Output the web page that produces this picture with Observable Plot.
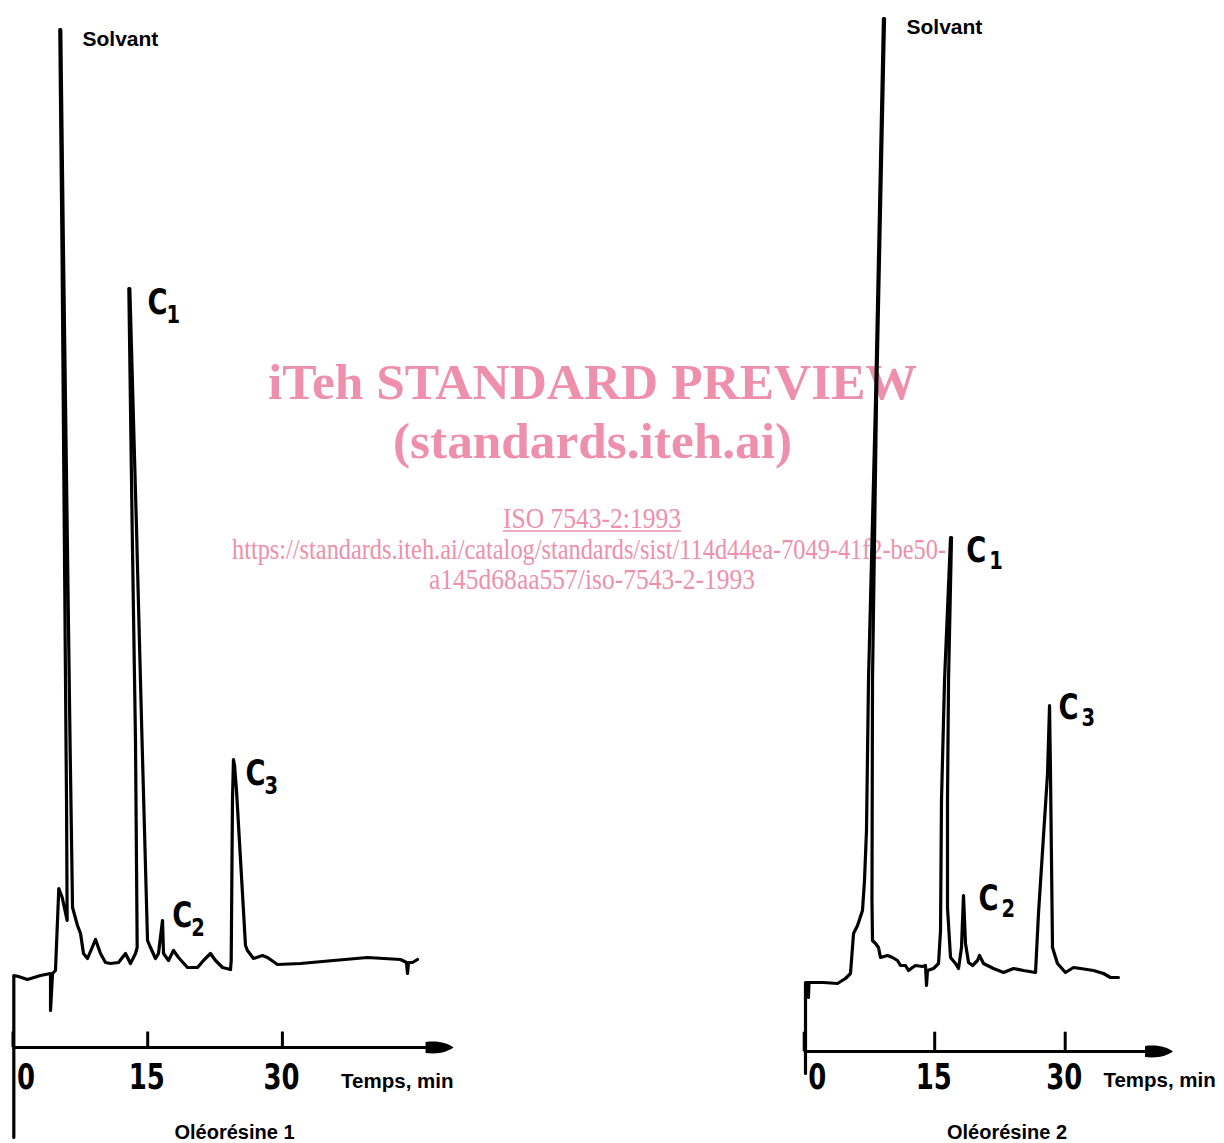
<!DOCTYPE html>
<html>
<head>
<meta charset="utf-8">
<script src="https://cdn.jsdelivr.net/npm/d3@7"></script>
<script src="https://cdn.jsdelivr.net/npm/@observablehq/plot@0.6"></script>
<style>
  html, body { margin: 0; padding: 0; background: #fff; }
  #page { position: relative; width: 1224px; height: 1143px; overflow: hidden; background: #fff; }
  #page > svg { position: absolute; top: 0; margin: 0; }
</style>
</head>
<body>
<div id="page"></div>
<script>
// ---------- Data ----------
// Oléorésine 1 : recorder trace (time in min, detector signal in arbitrary units)
const time1 = [0.09,0.09,0.61,1.61,3.06,4.18,4.18,4.40,4.73,5.10,5.48,6.03,5.96,5.90,5.46,5.21,5.32,5.62,6.35,6.63,7.18,7.52,7.85,8.30,9.19,9.74,10.30,10.86,11.75,12.53,13.08,13.64,13.83,13.64,13.27,12.90,13.01,13.75,14.37,14.98,15.31,15.87,16.20,16.65,16.76,17.32,17.87,18.43,19.43,20.55,21.21,21.99,22.55,23.33,24.22,24.30,24.44,24.55,24.67,24.89,25.89,26.11,26.78,27.78,28.34,29.45,32.02,35.69,39.48,43.15,43.82,43.93,44.04,44.49,45.04];
const signal1 = [-9.0,7.2,7.1,6.8,7.2,7.4,3.7,7.4,7.7,15.9,15.0,12.7,24.7,30.7,79.7,101.8,101.8,79.7,30.7,14.0,12.2,11.4,9.4,8.9,10.8,9.4,8.5,8.4,8.5,9.4,8.4,9.4,10.0,30.7,52.0,75.9,75.9,52.0,30.7,10.7,10.0,8.9,9.4,12.7,9.4,8.7,9.7,9.0,8.0,8.0,8.7,9.4,8.7,8.0,7.8,8.7,24.7,28.8,28.2,25.7,10.2,9.7,8.9,9.2,9.0,8.3,8.4,8.7,9.0,8.8,8.5,7.4,8.5,8.5,8.8];

// Oléorésine 2
const time2 = [0.15,0.15,0.49,0.49,0.55,2.21,3.83,4.75,5.32,5.67,6.13,6.70,6.93,7.16,7.39,8.20,9.11,9.23,8.31,7.85,7.79,7.85,8.20,8.54,8.77,9.57,10.15,10.72,11.07,11.64,11.99,12.45,12.79,13.60,13.94,14.06,14.17,14.86,15.44,15.67,15.78,16.13,16.82,16.93,16.59,16.47,16.47,16.82,17.39,17.74,18.08,18.31,18.54,18.89,19.35,19.92,20.15,20.61,21.76,22.91,24.06,25.21,26.59,26.93,27.97,28.20,28.31,28.54,29.11,30.03,30.95,31.76,33.25,34.40,35.20,36.12];
const signal2 = [-2.2,6.9,6.9,5.4,6.9,6.9,6.8,7.3,7.8,11.8,12.6,14.1,17.1,22.1,37.1,65.1,103.3,103.3,65.1,37.1,15.1,11.1,10.8,10.4,9.4,9.6,9.4,9.1,8.6,8.6,8.1,8.4,8.6,8.5,8.6,6.6,8.1,8.3,8.8,12.1,25.1,37.1,51.4,51.4,37.1,25.1,14.4,9.4,8.8,8.3,10.4,15.6,10.8,8.9,8.6,9.1,9.6,8.8,8.3,7.9,8.3,8.1,7.9,13.8,27.8,34.6,27.8,10.4,8.8,7.9,8.4,8.3,8.1,7.8,7.4,7.4];

// Axis ticks (min)
const ticks = [0, 15, 30];

// Peak labels
const peakNames = ["C", "C", "C"];
const peakSubscripts = ["1", "2", "3"];
const labelTime1 = [14.98, 17.73, 25.89];
const labelSignal1 = [74.45, 13.15, 27.35];
const labelTime2 = [18.64, 20.03, 29.23];
const labelSignal2 = [50.1, 15.25, 34.35];
const solventLabel = ["Solvant"];
const solventTime = [7.74, 11.76];
const solventSignal = [100.85, 102.45];

const xTitle = "Temps, min";
const captions = ["Oléorésine 1", "Oléorésine 2"];

// Watermark lines
const wmLines = [
  "iTeh STANDARD PREVIEW",
  "(standards.iteh.ai)",
  "ISO 7543-2:1993",
  "https://standards.iteh.ai/catalog/standards/sist/114d44ea-7049-41f2-be50-",
  "a145d68aa557/iso-7543-2-1993"
];

// ---------- Styles ----------
const INK = "#000";
const DIGITS = "DejaVu Sans, sans-serif";     // condensed afterwards
const LETTERS = "'DejaVu Sans', sans-serif";  // condensed afterwards
const SANS = "'Liberation Sans', Arial, Helvetica, sans-serif";
const PINK = "#ee8fab";

const arrowSymbol = {
  draw(ctx) {
    ctx.moveTo(-14, -5.5);
    ctx.bezierCurveTo(0, -7, 8, -4, 14, 0);
    ctx.bezierCurveTo(8, 4, 0, 7, -14, 5.5);
    ctx.closePath();
  }
};

function chromatogram(o) {
  return Plot.plot({
    width: o.width, height: 1143,
    marginLeft: o.marginLeft, marginRight: o.marginRight,
    marginTop: o.marginTop, marginBottom: o.marginBottom,
    x: {domain: [0, o.xEnd], axis: null},
    y: {domain: [0, 100], axis: null},
    style: {background: "transparent", overflow: "visible"},
    marks: [
      // time axis with arrow
      Plot.ruleY([0], {x1: 0, x2: o.axisEnd, stroke: INK, strokeWidth: 3}),
      Plot.ruleX(ticks, {x: d => d, y1: 0, y2: o.tickLen, stroke: INK, strokeWidth: 3}),
      Plot.dot([o.arrowAt], {x: d => d, y: 0, symbol: arrowSymbol, fill: INK, stroke: null}),
      // tick labels
      Plot.text(ticks.filter(t => t === 0), {x: d => d, frameAnchor: "bottom", lineAnchor: "bottom", dx: o.zeroDx, dy: o.tickDy, fontFamily: DIGITS, fontWeight: "bold", fontSize: 36, fill: INK}),
      Plot.text(ticks.filter(t => t > 0), {x: d => d, frameAnchor: "bottom", lineAnchor: "bottom", dx: -1, dy: o.tickDy, fontFamily: DIGITS, fontWeight: "bold", fontSize: 36, fill: INK}),
      Plot.text([xTitle], {frameAnchor: "bottom-right", textAnchor: "end", lineAnchor: "bottom", dx: o.titleDx, dy: o.titleDy, fontFamily: SANS, fontWeight: "bold", fontSize: 20.5, fill: INK}),
      Plot.text([o.caption], {frameAnchor: "bottom", lineAnchor: "bottom", dx: o.captionDx, dy: o.captionDy, fontFamily: SANS, fontWeight: "bold", fontSize: 20, fill: INK}),
      // trace
      Plot.line(o.time, {x: o.time, y: o.signal, stroke: INK, strokeWidth: 3.2, strokeLinejoin: "round", strokeLinecap: "round"}),
      // labels
      Plot.text(solventLabel, {x: [o.solventTime], y: [o.solventSignal], textAnchor: "start", lineAnchor: "middle", fontFamily: SANS, fontWeight: "bold", fontSize: 21, fill: INK}),
      Plot.text(peakNames, {x: o.labelTime, y: o.labelSignal, textAnchor: "start", lineAnchor: "middle", fontFamily: LETTERS, fontWeight: "bold", fontSize: 35, fill: INK}),
      Plot.text(peakSubscripts, {x: o.labelTime, y: o.labelSignal, textAnchor: "start", lineAnchor: "middle", dx: o.subDx, dy: o.subDy, fontFamily: LETTERS, fontWeight: "bold", fontSize: 25, fill: INK})
    ]
  });
}

// Horizontal condensing of the technical lettering (no narrow font installed)
function condense(svg) {
  d3.select(svg).selectAll("g").each(function () {
    const ff = this.getAttribute("font-family");
    const k = ff === DIGITS ? 0.72 : ff === LETTERS ? 0.78 : null;
    if (k == null) return;
    d3.select(this).selectAll("text").attr("transform", function () {
      return (this.getAttribute("transform") || "") + ` scale(${k},1)`;
    });
  });
}

const page = document.getElementById("page");

// Watermark layer (below the charts)
const wm = d3.select(page).append("svg")
  .attr("width", 1224).attr("height", 1143)
  .style("position", "absolute").style("left", "0px").style("top", "0px");
const wmSpec = [
  {x: 268, y: 398.5, size: 51, weight: "bold", len: 649},
  {x: 393, y: 457.5, size: 51, weight: "bold", len: 399},
  {x: 503, y: 528, size: 28.5, weight: "normal", len: 178},
  {x: 232, y: 558.5, size: 28.5, weight: "normal", len: 714},
  {x: 429, y: 588.5, size: 28.5, weight: "normal", len: 326}
];
wmLines.forEach((t, i) => {
  const s = wmSpec[i];
  wm.append("text").attr("x", s.x).attr("y", s.y)
    .attr("font-family", "'Liberation Serif', 'Times New Roman', serif")
    .attr("font-size", s.size).attr("font-weight", s.weight)
    .attr("fill", PINK)
    .attr("textLength", s.len).attr("lengthAdjust", "spacingAndGlyphs")
    .text(t);
});
wm.append("line").attr("x1", 503).attr("x2", 681).attr("y1", 531).attr("y2", 531)
  .attr("stroke", PINK).attr("stroke-width", 1.5);

const left = chromatogram({
  width: 480, marginLeft: 12.5, marginRight: 18.5, marginTop: 47, marginBottom: 96, xEnd: 50,
  axisEnd: 46.5, arrowAt: 47.5, tickLen: 1.55, zeroDx: 13, tickDy: 41,
  titleDx: -8.5, titleDy: 40, caption: captions[0], captionDx: -3, captionDy: 91,
  time: time1, signal: signal1,
  solventTime: solventTime[0], solventSignal: solventSignal[0],
  labelTime: labelTime1, labelSignal: labelSignal1, subDx: 19, subDy: 11.5
});
left.style.left = "0px";
condense(left);
page.appendChild(left);

const right = chromatogram({
  width: 444, marginLeft: 23.7, marginRight: 2.7, marginTop: 51, marginBottom: 92, xEnd: 48,
  axisEnd: 39.5, arrowAt: 40.78, tickLen: 1.93, zeroDx: 13, tickDy: 37,
  titleDx: -6, titleDy: 35, caption: captions[1], captionDx: -6, captionDy: 87,
  time: time2, signal: signal2,
  solventTime: solventTime[1], solventSignal: solventSignal[1],
  labelTime: labelTime2, labelSignal: labelSignal2, subDx: 23, subDy: 10
});
right.style.left = "780px";
condense(right);
page.appendChild(right);
</script>
</body>
</html>
